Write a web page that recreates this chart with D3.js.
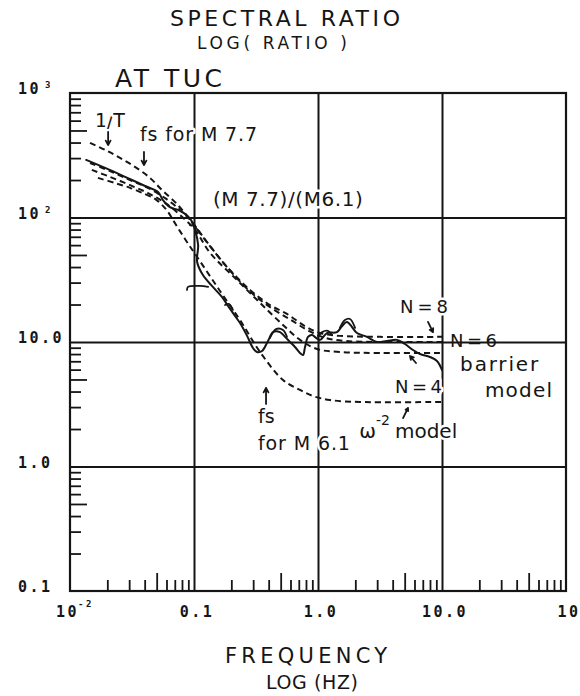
<!DOCTYPE html>
<html>
<head>
<meta charset="utf-8">
<script src="https://cdn.jsdelivr.net/npm/d3@7"></script>
<style>
  html, body { margin: 0; padding: 0; background: #fff; }
  svg { display: block; }
  .lab { font-family: "DejaVu Sans", sans-serif; fill: #151515;
         paint-order: stroke; stroke: #fff; stroke-width: 5px; stroke-linejoin: round; }
  .plain { font-family: "DejaVu Sans", sans-serif; fill: #151515; }
  .tick-lab { font-family: "DejaVu Sans Mono", monospace; font-weight: bold; font-size: 15px;
              letter-spacing: 2.5px; fill: #151515; }
</style>
</head>
<body>
<svg id="chart" width="580" height="696"></svg>
<script>
// ---- axis ticks ----
const xTickValues = [0.01, 0.1, 1, 10, 100];
const xTickText   = ["10", "0.1", "1.0", "10.0", "10"];
const xTickSup    = ["-2", "", "", "", ""];
const yTickValues = [1000, 100, 10, 1, 0.1];
const yTickText   = ["10", "10", "10.0", "1.0", "0.1"];
const yTickSup    = ["3", "2", "", "", ""];

// ---- spectral ratio curves: [frequency Hz, ratio] ----
const observed = [[0.0135,290],[0.0192,250],[0.0278,212],[0.0403,179],[0.0513,160],[0.0562,138],
  [0.0640,121],[0.0743,115],[0.0846,107],[0.0946,95.5],[0.102,79.4],[0.108,60.1],[0.106,43.9],
  [0.118,34.5],[0.142,27.7],[0.168,23.0],[0.188,19.5],[0.214,16.2],[0.235,14.2],[0.268,11.2],
  [0.299,8.95],[0.322,8.31],[0.354,8.47],[0.395,10.2],[0.434,12.0],[0.494,12.0],[0.542,11.0],
  [0.595,10.0],[0.652,9.12],[0.716,8.16],[0.757,7.86],[0.786,9.12],[0.831,11.0],[0.894,11.4],
  [0.964,10.8],[1.04,10.4],[1.18,11.8],[1.42,12.0],[1.56,13.4],[1.71,14.5],[1.88,13.2],
  [2.06,11.8],[2.48,11.0],[2.99,10.0],[3.60,10.2],[4.34,10.4],[5.03,9.64],[5.84,8.62],
  [6.65,8.01],[8.00,7.58],[9.11,7.04],[10.0,5.96]];
// short side traces of the observed ratio (small loops and spurs)
const observedSide = [
  [[0.0928,87],[0.100,85.4],[0.110,76.4]],
  [[0.0878,26.2],[0.0894,27.7],[0.112,28.2],[0.130,27.7]],
  [[0.178,19.8],[0.192,20.2],[0.206,18.1]],
  [[0.410,10.8],[0.459,12.7],[0.522,12.5],[0.562,11.0]],
  [[1.00,11.0],[1.08,12.0],[1.20,12.3],[1.30,11.4]],
  [[1.50,13.0],[1.65,15.0],[1.81,15.3],[1.99,13.0]]
];
const barrierN8 = [[0.0145,397],[0.0192,349],[0.0253,301],[0.0334,255],[0.0442,208],[0.0552,166],
  [0.0703,133],[0.0894,101],[0.118,69.7],[0.185,40.0],[0.283,26.2],[0.410,19.8],[0.562,16.8],
  [0.786,13.4],[1.04,11.8],[1.50,11.2],[3.16,11.0],[10,11.0]];
const barrierN6 = [[0.0145,274],[0.0210,236],[0.0305,200],[0.0426,173],[0.0584,143],[0.0771,115],
  [0.0964,92],[0.125,65],[0.195,37.5],[0.294,24.6],[0.426,18.6],[0.595,15.2],[0.831,12.4],
  [1.14,10.8],[1.65,10.2],[3.16,10.0],[10,10.0]];
const barrierN4 = [[0.0150,241],[0.0210,212],[0.0305,182],[0.0426,157],[0.0584,131],[0.0771,105],
  [0.102,79.4],[0.135,51.9],[0.222,31.5],[0.341,20.6],[0.522,13.7],[0.716,10.4],[0.982,8.78],
  [1.50,8.31],[3.16,8.16],[10,8.16]];
const omega2Model = [[0.0168,208],[0.0231,189],[0.0305,173],[0.0403,154],[0.0485,141],[0.0562,124],
  [0.0617,111],[0.0677,95.5],[0.0846,67.2],[0.106,48.2],[0.162,25.7],[0.235,15.0],[0.341,8.31],
  [0.522,4.95],[0.716,4.12],[0.912,3.68],[1.25,3.42],[2.18,3.30],[10,3.30]];

// ---- layout ----
const INK = "#151515";
const svg = d3.select("#chart");
const x = d3.scaleLog().domain([0.01, 100]).range([70, 566]);
const y = d3.scaleLog().domain([0.1, 1000]).range([591, 93]);
const plotW = 566 - 70, plotH = 591 - 93;

function minorValues(decades, keepFive) {
  const out = [];
  decades.forEach(d => { for (let k = 2; k <= 9; k++) if ((k === 5) === keepFive) out.push(+(d * k).toPrecision(3)); });
  return out;
}
const xDecades = [0.01, 0.1, 1, 10];
const yDecades = [0.1, 1, 10, 100];

function styleAxis(g, w) {
  g.select(".domain").remove();
  g.selectAll(".tick line").attr("stroke", INK).attr("stroke-width", w);
}

// decade grid lines
svg.append("g").attr("transform", "translate(0,591)")
  .call(d3.axisBottom(x).tickValues([0.1, 1, 10]).tickSize(-plotH).tickFormat(""))
  .call(g => styleAxis(g, 2));
svg.append("g").attr("transform", "translate(70,0)")
  .call(d3.axisLeft(y).tickValues([1, 10, 100]).tickSize(-plotW).tickFormat(""))
  .call(g => styleAxis(g, 2));

// minor ticks inside the frame (bottom and left)
svg.append("g").attr("transform", "translate(0,591)")
  .call(d3.axisBottom(x).tickValues(minorValues(xDecades, false)).tickSize(-11).tickFormat(""))
  .call(g => styleAxis(g, 1.8));
svg.append("g").attr("transform", "translate(0,591)")
  .call(d3.axisBottom(x).tickValues(minorValues(xDecades, true)).tickSize(-18).tickFormat(""))
  .call(g => styleAxis(g, 1.8));
svg.append("g").attr("transform", "translate(70,0)")
  .call(d3.axisLeft(y).tickValues(minorValues(yDecades, false)).tickSize(-11).tickFormat(""))
  .call(g => styleAxis(g, 1.8));
svg.append("g").attr("transform", "translate(70,0)")
  .call(d3.axisLeft(y).tickValues(minorValues(yDecades, true)).tickSize(-17).tickFormat(""))
  .call(g => styleAxis(g, 1.8));

// frame
svg.append("rect").attr("x", x(0.01)).attr("y", y(1000))
  .attr("width", x(100) - x(0.01)).attr("height", y(0.1) - y(1000))
  .attr("fill", "none").attr("stroke", INK).attr("stroke-width", 2.2);

// tick labels
const yLab = svg.append("g");
yTickValues.forEach((v, i) => {
  const t = yLab.append("text").attr("class", "tick-lab").attr("x", 18).attr("y", y(v) + 1);
  t.append("tspan").text(yTickText[i]);
  if (yTickSup[i]) t.append("tspan").attr("dx", 4).attr("dy", -6)
    .style("font-size", "9px").text(yTickSup[i]);
});
const xLab = svg.append("g");
xTickValues.forEach((v, i) => {
  const t = xLab.append("text").attr("class", "tick-lab").attr("y", 617);
  if (xTickSup[i]) {
    t.attr("x", x(v) - 14).attr("text-anchor", "start");
    t.append("tspan").text(xTickText[i]);
    t.append("tspan").attr("dx", -1).attr("dy", -10).style("font-size", "9px").text(xTickSup[i]);
  } else {
    t.attr("x", x(v) + 3).attr("text-anchor", "middle").text(xTickText[i]);
  }
});

// curves
const line = d3.line().x(d => x(d[0])).y(d => y(d[1])).curve(d3.curveCatmullRom.alpha(0.5));
const curves = svg.append("g").attr("fill", "none").attr("stroke", INK)
  .attr("stroke-linejoin", "round").attr("stroke-linecap", "round");
[barrierN8, barrierN6, barrierN4, omega2Model].forEach(s => {
  curves.append("path").attr("d", line(s)).attr("stroke-width", 2).attr("stroke-dasharray", "6,4")
    .attr("stroke-linecap", "butt");
});
curves.append("path").attr("d", line(observed)).attr("stroke-width", 2);
observedSide.forEach(s => curves.append("path").attr("d", line(s)).attr("stroke-width", 1.8));

// annotation helpers
function label(str, f, r, size, len, cls) {
  const t = svg.append("text").attr("class", cls || "lab").attr("x", x(f)).attr("y", y(r))
    .style("font-size", size + "px").text(str);
  if (len) t.attr("textLength", len).attr("lengthAdjust", "spacing");
  return t;
}
function arrow(f1, r1, f2, r2, head) {
  const x1 = x(f1), y1 = y(r1), x2 = x(f2), y2 = y(r2);
  const a = Math.atan2(y2 - y1, x2 - x1), h = head || 5;
  const p = d3.path();
  p.moveTo(x1, y1); p.lineTo(x2, y2);
  p.moveTo(x2 - h * Math.cos(a - 0.5), y2 - h * Math.sin(a - 0.5));
  p.lineTo(x2, y2);
  p.lineTo(x2 - h * Math.cos(a + 0.5), y2 - h * Math.sin(a + 0.5));
  svg.append("path").attr("d", p.toString()).attr("fill", "none").attr("stroke", INK)
    .attr("stroke-width", 1.8).attr("stroke-linecap", "round").attr("stroke-linejoin", "round");
}

// titles
svg.append("text").attr("class", "plain").attr("x", 170).attr("y", 26)
  .style("font-size", "22px").attr("textLength", 230).attr("lengthAdjust", "spacing").text("SPECTRAL RATIO");
svg.append("text").attr("class", "plain").attr("x", 197).attr("y", 49)
  .style("font-size", "17px").attr("textLength", 150).attr("lengthAdjust", "spacing").text("LOG( RATIO )");
svg.append("text").attr("class", "plain").attr("x", 115).attr("y", 87)
  .style("font-size", "25px").attr("textLength", 107).attr("lengthAdjust", "spacing").text("AT TUC");
svg.append("text").attr("class", "plain").attr("x", 225).attr("y", 663)
  .style("font-size", "21px").attr("textLength", 162).attr("lengthAdjust", "spacing").text("FREQUENCY");
svg.append("text").attr("class", "plain").attr("x", 266).attr("y", 689)
  .style("font-size", "19px").attr("textLength", 92).attr("lengthAdjust", "spacing").text("LOG (HZ)");

// annotations
label("1/T", 0.0159, 533, 19, 30);
arrow(0.0203, 486, 0.0203, 382, 5);
label("fs for M 7.7", 0.0367, 412, 19, 117);
arrow(0.0395, 336, 0.0395, 264, 5);
label("(M 7.7)/(M6.1)", 0.142, 124, 20, 150);
label("N = 8", 4.58, 17.1, 18, 48);
arrow(7.71, 14.5, 8.46, 12.0, 4);
label("N = 6", 11.6, 9.12, 18, 47, "plain");
label("barrier", 14.0, 5.85, 20, 78);
label("model", 22.2, 3.61, 20, 67);
label("N = 4", 4.18, 3.89, 18, 47);
arrow(6.17, 6.78, 5.52, 7.72, 4);
arrow(4.85, 2.45, 5.32, 2.95, 3);
const om = svg.append("text").attr("class", "lab").attr("x", x(2.15)).attr("y", y(1.69)).style("font-size", "20px");
om.append("tspan").text("ω");
om.append("tspan").attr("dy", -13).style("font-size", "14px").text("-2");
om.append("tspan").attr("dy", 13).attr("dx", 5).text("model");
arrow(0.381, 3.18, 0.381, 4.27, 5);
label("fs", 0.328, 2.24, 19);
label("for M 6.1", 0.328, 1.36, 19, 92);
</script>
</body>
</html>
